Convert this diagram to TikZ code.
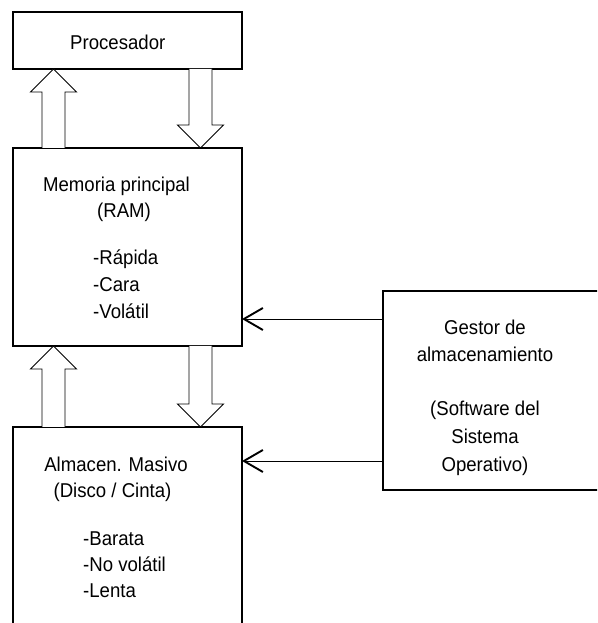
\documentclass[tikz,border=0pt]{standalone}
\usepackage{fontspec}
\setmainfont[FakeStretch=0.93]{Liberation Sans}
\usetikzlibrary{arrows.meta,calc}

\tikzset{
    box/.style={draw, line width=2.8pt, rectangle, inner sep=0pt, outer sep=0pt},
    txt/.style={inner sep=0pt, font=\fontsize{20}{26}\selectfont},
    hollow/.style={draw, line width=0.9pt, fill=white, line join=miter},
    link/.style={line width=0.9pt, -{Straight Barb[length=19pt,width=22pt,line width=1.9pt]}},
}

% wide hollow arrow: tail, tip, direction (1 up, -1 down)
\newcommand{\fatarrow}[3]{%
    \draw[hollow] let \p1=(#1), \p2=(#2) in
        ({\x1-11.5pt},\y1) -- ({\x1-11.5pt},{\y2-(#3)*23pt}) -- ({\x1-23pt},{\y2-(#3)*23pt})
        -- (\x2,\y2) -- ({\x1+23pt},{\y2-(#3)*23pt}) -- ({\x1+11.5pt},{\y2-(#3)*23pt})
        -- ({\x1+11.5pt},\y1);
}

\begin{document}
\begin{tikzpicture}[x=1pt,y=1pt]
        \useasboundingbox (0,0) rectangle (597,623);
        \clip (0,0) rectangle (597,623);

        % boxes
        \node[box, minimum width=229pt, minimum height=57pt] (proc) at (127.5,582.5) {};
        \node[box, minimum width=229pt, minimum height=198pt] (mem) at (127.5,376) {};
        \node[box, minimum width=229pt, minimum height=216pt] (alm) at (127.5,88) {};
        \node[box, minimum width=237pt, minimum height=199pt] (gestor) at (501.5,232.5) {};

        % hollow arrows between the levels
        \fatarrow{$(mem.north west)+(40.5,0)$}{$(proc.south west)+(40.5,0)$}{1}
        \fatarrow{$(proc.south west)+(187.5,0)$}{$(mem.north west)+(187.5,0)$}{-1}
        \fatarrow{$(alm.north west)+(40.5,0)$}{$(mem.south west)+(40.5,0)$}{1}
        \fatarrow{$(mem.south west)+(187.5,0)$}{$(alm.north west)+(187.5,0)$}{-1}

        % links from the manager
        \coordinate (g1) at ([yshift=71.5pt]gestor.west);
        \coordinate (g2) at ([yshift=-70.5pt]gestor.west);
        \draw[link] (g1) -- (g1 -| mem.east);
        \draw[link] (g2) -- (g2 -| alm.east);

        % texts
        \node[txt, anchor=base west] (proct) at (70,573) {Procesador};

        \node[txt, anchor=base] (memt1) at (116.5,431) {Memoria principal};
        \node[txt, anchor=base] (memt2) at (124,405) {(RAM)};
        \foreach \t [count=\i] in {-Rápida,-Cara,-Volátil}
            \node[txt, anchor=base west] (memb\i) at (93,{358-27*(\i-1)}) {\t};

        \node[txt, anchor=base] (almt1) at (116,151) {Almacen. Masivo};
        \node[txt, anchor=base] (almt2) at (112.5,125) {(Disco / Cinta)};
        \foreach \t [count=\i] in {-Barata,-No volátil,-Lenta}
            \node[txt, anchor=base west] (almb\i) at (83,{77-26*(\i-1)}) {\t};

        \foreach \t/\y [count=\i] in {{Gestor de}/288,{almacenamiento}/261,{(Software del}/207,{Sistema}/179,{Operativo)}/151}
            \node[txt, anchor=base] (gt\i) at (485,\y) {\t};

    \end{tikzpicture}
\end{document}
